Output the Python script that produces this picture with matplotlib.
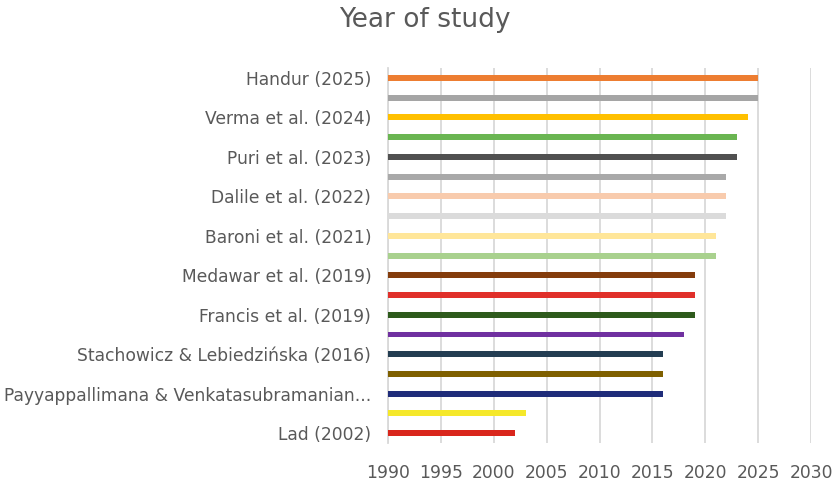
import matplotlib
matplotlib.use("Agg")
import matplotlib.pyplot as plt

# Data (top to bottom); every other label is hidden in the source chart
studies = [
    "Handur (2025)", "", "Verma et al. (2024)", "", "Puri et al. (2023)", "",
    "Dalile et al. (2022)", "", "Baroni et al. (2021)", "",
    "Medawar et al. (2019)", "", "Francis et al. (2019)", "",
    "Stachowicz & Lebiedzińska (2016)", "",
    "Payyappallimana & Venkatasubramanian...", "", "Lad (2002)",
]
years = [2025, 2025, 2024, 2023, 2023, 2022, 2022, 2022, 2021, 2021,
         2019, 2019, 2019, 2018, 2016, 2016, 2016, 2003, 2002]
colors = ["#ED7D31", "#A5A5A5", "#FFC000", "#6AB552", "#505050", "#A9A9A9",
          "#F8CBAD", "#DBDBDB", "#FFE699", "#A9D18E", "#843C0C", "#E0302A",
          "#2E5A1C", "#7030A0", "#233D52", "#7F6000", "#1F2C7A", "#F5E82A",
          "#D9261C"]
x_ticks = [1990, 1995, 2000, 2005, 2010, 2015, 2020, 2025, 2030]

TEXT = "#595959"
plt.rcParams["font.family"] = ["DejaVu Sans"]

fig = plt.figure(figsize=(8.37, 4.83), dpi=100)
ax = fig.add_axes([0.4636, 0.0828, 0.969 - 0.4636, 0.859 - 0.0828])

pos = list(range(len(years)))
base = x_ticks[0]
ax.barh(pos, [y - base for y in years], left=base, height=0.3,
        color=colors, zorder=3)

ax.set_xlim(x_ticks[0], x_ticks[-1])
ax.set_ylim(len(years) - 0.5, -0.5)
ax.set_xticks(x_ticks)
ax.set_yticks(pos)
ax.set_yticklabels(studies)
ax.tick_params(axis="both", length=0, colors=TEXT, labelsize=12.3)
ax.tick_params(axis="x", pad=15)
ax.tick_params(axis="y", pad=12)

ax.grid(axis="x", color="#D9D9D9", linewidth=1.3, zorder=0)
for s in ["top", "right", "bottom"]:
    ax.spines[s].set_visible(False)
ax.spines["left"].set_color("#D9D9D9")
ax.spines["left"].set_linewidth(1.3)

fig.text(425 / 837, 1 - 20 / 483, "Year of study", ha="center", va="center",
         fontsize=19, color=TEXT)

fig.savefig("out.png", dpi=100, facecolor="white")
